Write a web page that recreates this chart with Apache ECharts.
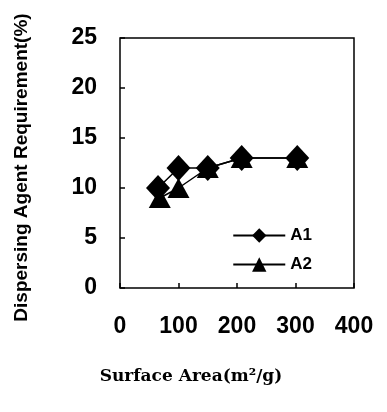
<!DOCTYPE html>
<html>
<head>
<meta charset="utf-8">
<script src="https://cdn.jsdelivr.net/npm/echarts@6/dist/echarts.min.js"></script>
<style>
  html, body { margin: 0; padding: 0; background: #fff; }
  #chart { width: 387px; height: 412px; }
</style>
</head>
<body>
<div id="chart"></div>
<script>
// values
var seriesNames = ['A1', 'A2'];
var a1Data = [[65, 10], [100, 12], [150, 12], [208, 13], [303, 13]];
var a2Data = [[68, 9], [100, 10], [150, 12], [208, 13], [303, 13]];
var xTicks = [0, 100, 200, 300, 400];
var yTicks = [0, 5, 10, 15, 20, 25];

var chart = echarts.init(document.getElementById('chart'));

var option = {
    animation: false,
    grid: {
        left: 120, top: 38, right: 33, bottom: 124,
        show: true, borderColor: '#000', borderWidth: 1.5
    },
    legend: {
        data: seriesNames,
        orient: 'vertical',
        right: 70, top: 222,
        itemWidth: 52, itemHeight: 18, itemGap: 12,
        textStyle: { color: '#000', fontSize: 17, fontWeight: 'bold', fontFamily: 'Liberation Sans' }
    },
    xAxis: {
        type: 'value',
        min: xTicks[0], max: xTicks[xTicks.length - 1], interval: 100,
        name: 'Surface Area(m²/g)',
        nameLocation: 'middle', nameGap: 80,
        nameTextStyle: {
            color: '#000', fontSize: 17, fontWeight: 'bold', fontFamily: 'DejaVu Serif',
            padding: [0, 92, 0, 0]
        },
        axisLine: { show: false },
        axisTick: { show: true, inside: true, length: 5, lineStyle: { color: '#000', width: 1.5 } },
        axisLabel: { color: '#000', fontSize: 23, fontWeight: 'bold', margin: 27, fontFamily: 'Liberation Sans' },
        splitLine: { show: false }
    },
    yAxis: {
        type: 'value',
        min: yTicks[0], max: yTicks[yTicks.length - 1], interval: 5,
        name: 'Dispersing Agent Requirement(%)',
        nameLocation: 'middle', nameGap: 89,
        nameTextStyle: {
            color: '#000', fontSize: 19, fontWeight: 'bold', fontFamily: 'Liberation Sans',
            padding: [0, 9, 0, 0]
        },
        axisLine: { show: false },
        axisTick: { show: true, inside: true, length: 5, lineStyle: { color: '#000', width: 1.5 } },
        axisLabel: { color: '#000', fontSize: 23, fontWeight: 'bold', margin: 23, fontFamily: 'Liberation Sans' },
        splitLine: { show: false }
    },
    series: [
        {
            name: seriesNames[0], type: 'line', data: a1Data,
            symbol: 'diamond', symbolSize: [24, 26],
            itemStyle: { color: '#000' },
            lineStyle: { color: '#000', width: 1.5 },
            z: 3
        },
        {
            name: seriesNames[1], type: 'line', data: a2Data,
            symbol: 'triangle', symbolSize: [22, 20],
            itemStyle: { color: '#000' },
            lineStyle: { color: '#000', width: 1.5 },
            z: 2
        }
    ]
};

chart.setOption(option);
</script>
</body>
</html>
